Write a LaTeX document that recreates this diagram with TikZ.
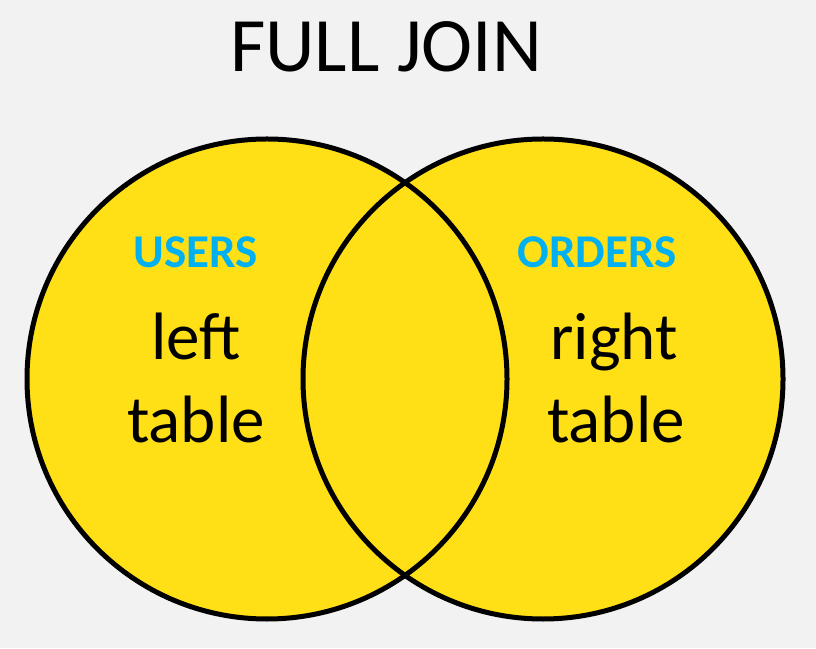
\documentclass[tikz,border=0pt]{standalone}
\usepackage{fontspec}
\setmainfont{Carlito}
\definecolor{bgc}{HTML}{F2F2F2}
\definecolor{venn}{HTML}{FFDF15}
\definecolor{lbl}{HTML}{00B0F0}
\tikzset{
  settxt/.style={font=\fontsize{47}{47}\selectfont\bfseries, text=lbl, anchor=base, inner sep=0pt},
  bigtxt/.style={font=\fontsize{67}{67}\selectfont, text=black, anchor=base, inner sep=0pt},
  ring/.style={draw=black, line width=5pt}
}
\begin{document}
\begin{tikzpicture}[x=1pt,y=1pt]
\fill[bgc] (0,0) rectangle (816,648);
\useasboundingbox (0,0) rectangle (816,648);
\coordinate (cl) at (267,269);
\coordinate (cr) at (543,269);
\fill[venn] (cl) circle (240);
\fill[venn] (cr) circle (240);
\draw[ring] (cl) circle (240);
\draw[ring] (cr) circle (240);
\node[anchor=base, inner sep=0pt, font=\fontsize{77}{77}\selectfont] (title) at (386,576) {FULL JOIN};
\node[settxt] (users) at (196,380) {USERS};
\node[settxt] (orders) at (597,380) {ORDERS};
\node[bigtxt] (left) at (196,288) {left};
\node[bigtxt] (ltab) at (196,205) {table};
\node[bigtxt] (right) at (614,288) {right};
\node[bigtxt] (rtab) at (616,205) {table};
\end{tikzpicture}
\end{document}
